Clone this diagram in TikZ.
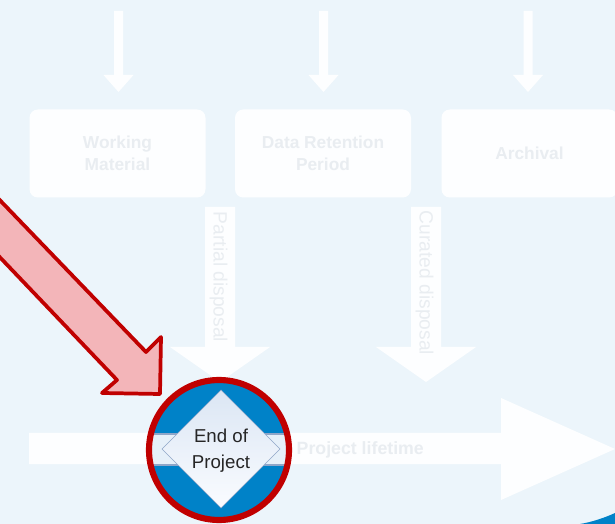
\documentclass[tikz,border=0pt]{standalone}
\usepackage{fontspec}
\setmainfont{Liberation Sans}
\usepackage{tikz}
\definecolor{pagebg}{HTML}{ECF5FB}
\definecolor{ghost}{HTML}{FDFEFF}
\definecolor{ghosttext}{HTML}{E9EDF1}
\definecolor{bandblue}{HTML}{0082C8}
\definecolor{bandpale}{HTML}{E6F0F9}
\definecolor{ringred}{HTML}{C00000}
\definecolor{pointer}{HTML}{F3B5B9}
\definecolor{diamondedge}{HTML}{8FA6C8}
\definecolor{diamondtop}{HTML}{DBE6F4}
\definecolor{diamondfoot}{HTML}{FAFCFF}
\begin{document}
\begin{tikzpicture}
      [x=.75pt, y=-.75pt,
        stage/.style={rectangle, rounded corners=2.2mm, fill=ghost, minimum width=132pt, minimum height=66pt, align=center,
          text=ghosttext, font=\bfseries\fontsize{13}{16.5}\selectfont},
        ghostarrow/.style={fill=ghost},
        ghostlabel/.style={text=ghosttext, font=\bfseries\fontsize{13.3}{16}\selectfont},
        sidelabel/.style={text=ghosttext, rotate=-90, font=\fontsize{14.4}{16}\selectfont}]
    \useasboundingbox (0,0) rectangle (615,524);
    \fill[pagebg] (0,0) rectangle (615,524);
    % corner of the band, lower right
    \fill[bandblue] (615,524) -- (580,524) .. controls (592,522) and (604,518) .. (615,513) -- cycle;
      \node[stage] (working) at (117.5,153.5) {Working\\Material};
      \node[stage] (retention) at (323,153.5) {Data Retention\\Period};
      \node[stage] (archival) at (529.5,153.5) {Archival};
    % arrows into the stages
    \foreach \x in {118.5,323.5,528} {
      \fill[ghostarrow] (\x-4.5,11) -- (\x+4.5,11) -- (\x+4.5,75) -- (\x+15,75)
        -- (\x,92) -- (\x-15,75) -- (\x-4.5,75) -- cycle;
    }
    % disposal arrows
    \foreach \x/\tip in {220/382,426/382} {
      \fill[ghostarrow] (\x-15,207) -- (\x+15,207) -- (\x+15,347) -- (\x+50,347)
        -- (\x,\tip) -- (\x-50,347) -- (\x-15,347) -- cycle;
    }
      \node[sidelabel] (partial) at (218.5,277) {Partial disposal};
      \node[sidelabel] (curated) at (424.5,283) {Curated disposal};
    % lifetime arrow
    \fill[ghostarrow] (29,433) -- (501,433) -- (501,398) -- (615,449)
      -- (501,500) -- (501,464) -- (29,464) -- cycle;
      \node[ghostlabel, anchor=west] (lifetime) at (292,450) {Project lifetime};
    % pointer
    \draw[line width=2.8pt, ringred, fill=pointer, line join=round]
      (-8,192) -- (146,352) -- (161,337) -- (160,394) -- (102,393) -- (117,380) -- (-8,249) -- cycle;
    % badge
    \begin{scope}
      \clip (219,450) circle (70);
      \fill[bandblue] (140,370) rectangle (300,530);
      \fill[bandpale] (140,434) rectangle (300,465);
      \draw[diamondedge, line width=1pt] (140,434) -- (300,434) (140,465) -- (300,465);
    \end{scope}
      \node[draw=ringred, line width=4.6pt, circle, minimum size=105pt, inner sep=0pt] (badge) at (219,450) {};
    \draw[diamondedge, top color=diamondtop, bottom color=diamondfoot]
      (221,390) -- (280,449) -- (221,508) -- (162,449) -- cycle;
      \node[align=center, font=\fontsize{14}{19.5}\selectfont, text=black!85] (endproject) at (221,451) {End of\\Project};
    \end{tikzpicture}
\end{document}
